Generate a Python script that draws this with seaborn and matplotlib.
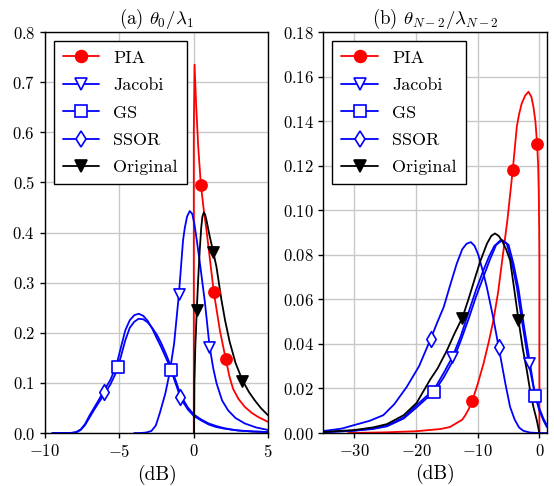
import matplotlib
matplotlib.use('Agg')
import matplotlib.pyplot as plt
from matplotlib.lines import Line2D
import seaborn as sns

# ---- panel (a): theta_0 / lambda_1 ----
a_pia_x = [0.0, 0.0, 0.05, 0.15, 0.3, 0.47, 0.65, 0.85, 1.05, 1.345, 1.75, 2.15, 2.4, 2.64, 3.0, 3.43, 3.9, 4.32, 5.0]
a_pia_y = [0.0, 0.60, 0.735, 0.66, 0.57, 0.497, 0.45, 0.405, 0.355, 0.281, 0.205, 0.147, 0.112, 0.088, 0.068, 0.052, 0.040, 0.032, 0.022]
a_pia_mx = [0.47, 1.345, 2.15]
a_pia_my = [0.495, 0.281, 0.147]

a_jac_x = [-4.0, -3.6, -3.2, -2.85, -2.55, -2.29, -1.91, -1.61, -1.32, -1.0, -0.72, -0.6, -0.45, -0.27, -0.1, 0.05, 0.2, 0.45, 0.75, 1.05, 1.3, 1.53, 1.9, 2.31, 2.8, 3.43, 4.2, 5.0]
a_jac_y = [0.0, 0.0, 0.001, 0.004, 0.015, 0.039, 0.079, 0.122, 0.179, 0.277, 0.385, 0.41, 0.432, 0.443, 0.437, 0.415, 0.385, 0.33, 0.26, 0.175, 0.13, 0.099, 0.065, 0.045, 0.03, 0.019, 0.011, 0.006]
a_jac_mx = [-0.99, 1.05]
a_jac_my = [0.277, 0.172]

a_wide_x = [-9.5, -8.3, -7.9, -7.6, -7.3, -7.0, -6.7, -6.4, -6.0, -5.6, -5.2, -4.9, -4.6, -4.3, -4.0, -3.7, -3.4, -3.1, -2.8, -2.5, -2.2, -1.9, -1.6, -1.3, -1.0, -0.7, -0.4, 0.0, 0.5, 1.0, 1.5, 2.0, 2.5, 3.0, 4.0, 5.0]
a_gs_y = [0.0, 0.0, 0.002, 0.007, 0.018, 0.035, 0.05, 0.065, 0.086, 0.106, 0.135, 0.17, 0.205, 0.225, 0.235, 0.238, 0.234, 0.224, 0.209, 0.19, 0.172, 0.152, 0.132, 0.106, 0.08, 0.061, 0.047, 0.034, 0.025, 0.017, 0.012, 0.009, 0.007, 0.005, 0.003, 0.002]
a_gs_mx = [-5.11, -1.5]
a_gs_my = [0.132, 0.125]
a_ssor_y = [0.0, 0.0, 0.001, 0.006, 0.016, 0.031, 0.046, 0.06, 0.078, 0.097, 0.122, 0.152, 0.185, 0.21, 0.222, 0.228, 0.227, 0.221, 0.21, 0.197, 0.18, 0.16, 0.138, 0.112, 0.086, 0.066, 0.051, 0.037, 0.027, 0.019, 0.014, 0.01, 0.007, 0.005, 0.003, 0.002]
a_ssor_mx = [-6.0, -0.94]
a_ssor_my = [0.082, 0.072]

a_orig_x = [0.02, 0.04, 0.1, 0.2, 0.3, 0.4, 0.5, 0.58, 0.67, 0.76, 0.85, 1.05, 1.3, 1.52, 1.86, 2.1, 2.4, 2.8, 3.27, 3.7, 4.1, 4.5, 5.0]
a_orig_y = [0.0, 0.10, 0.17, 0.245, 0.31, 0.365, 0.41, 0.432, 0.44, 0.436, 0.425, 0.395, 0.362, 0.332, 0.265, 0.225, 0.183, 0.14, 0.105, 0.082, 0.065, 0.05, 0.035]
a_orig_mx = [0.2, 1.3, 3.27]
a_orig_my = [0.245, 0.362, 0.103]

# ---- panel (b): theta_{N-2} / lambda_{N-2} ----
b_pia_x = [-31, -25, -20, -16, -14.5, -12.5, -12.0, -11.5, -10.9, -10.0, -9.07, -8.2, -7.45, -6.7, -6.1, -5.19, -4.31, -3.66, -3.3, -2.86, -2.3, -1.78, -1.3, -0.97, -0.65, -0.37, -0.2, -0.1, -0.03, 0.0, 0.0]
b_pia_y = [0.0, 0.0003, 0.0008, 0.0018, 0.0027, 0.006, 0.008, 0.0105, 0.0142, 0.022, 0.031, 0.041, 0.0506, 0.063, 0.076, 0.0955, 0.1183, 0.1375, 0.143, 0.148, 0.1515, 0.1532, 0.151, 0.1465, 0.140, 0.1297, 0.12, 0.1075, 0.09, 0.0776, 0.0]
b_pia_mx = [-10.9, -4.31, -0.37]
b_pia_my = [0.0142, 0.1183, 0.1297]

b_jac_x = [-35, -30.1, -27, -24.7, -22, -19.9, -18.5, -17.07, -15.5, -14.1, -12.8, -11.5, -10.3, -9.08, -8.2, -7.3, -6.26, -5.28, -4.5, -3.66, -2.7, -1.78, -1.2, -0.7, 0.0, 0.65, 1.2]
b_jac_y = [0.0004, 0.0011, 0.002, 0.0033, 0.007, 0.0125, 0.016, 0.0195, 0.027, 0.0341, 0.043, 0.054, 0.064, 0.073, 0.079, 0.084, 0.0866, 0.085, 0.077, 0.0656, 0.048, 0.0319, 0.024, 0.017, 0.01, 0.0057, 0.0027]
b_jac_mx = [-14.1, -1.62]
b_jac_my = [0.0341, 0.0315]

b_gs_x = [-35, -30.1, -27, -24.7, -22, -19.9, -18.5, -17.07, -15.5, -14.1, -12.8, -11.5, -10.3, -9.08, -8.0, -7.0, -6.0, -5.0, -4.2, -3.4, -2.5, -1.5, -1.0, -0.65, 0.0, 0.65, 1.2]
b_gs_y = [0.0004, 0.001, 0.0018, 0.003, 0.0065, 0.0115, 0.015, 0.0184, 0.025, 0.032, 0.041, 0.051, 0.061, 0.070, 0.078, 0.0845, 0.0866, 0.0845, 0.076, 0.065, 0.048, 0.031, 0.022, 0.0166, 0.011, 0.0065, 0.0035]
b_gs_mx = [-17.07, -0.65]
b_gs_my = [0.0184, 0.0166]

b_ssor_x = [-35, -32, -30.1, -27.5, -25.3, -23.5, -21.5, -19.5, -17.6, -16.5, -15.5, -14.5, -13.4, -12.5, -11.8, -11.1, -10.5, -9.9, -9.2, -8.53, -7.5, -6.6, -5.5, -4.75, -4.0, -3.3, -2.6, -1.5, 0.0, 1.2]
b_ssor_y = [0.0009, 0.002, 0.0035, 0.0055, 0.008, 0.013, 0.0207, 0.03, 0.0424, 0.05, 0.0566, 0.066, 0.076, 0.0825, 0.085, 0.0857, 0.084, 0.08, 0.073, 0.0656, 0.052, 0.0386, 0.022, 0.0117, 0.006, 0.0025, 0.001, 0.0002, 0.0, 0.0]
b_ssor_mx = [-17.5, -6.58]
b_ssor_my = [0.0424, 0.0386]

b_orig_x = [-35, -32, -30.1, -27, -24.7, -22, -19.9, -17.7, -16.5, -15.0, -13.7, -12.48, -11.5, -10.5, -9.6, -8.5, -7.8, -7.2, -6.6, -6.0, -5.4, -4.75, -4.1, -3.4, -2.7, -2.04, -1.5, -0.97, -0.42, 0.0]
b_orig_y = [0.0005, 0.001, 0.0013, 0.0025, 0.004, 0.008, 0.0135, 0.024, 0.029, 0.037, 0.045, 0.0518, 0.06, 0.069, 0.077, 0.085, 0.0885, 0.0896, 0.0885, 0.086, 0.0825, 0.0776, 0.065, 0.051, 0.038, 0.0282, 0.019, 0.0117, 0.0057, 0.0]
b_orig_mx = [-12.48, -3.4]
b_orig_my = [0.0518, 0.0509]

labels = ['PIA', 'Jacobi', 'GS', 'SSOR', 'Original']
colors = ['red', 'blue', 'blue', 'blue', 'black']
markers = ['o', 'v', 's', 'd', 'v']
filled = [True, False, False, False, True]

sns.set_style('ticks')
plt.rcParams['font.family'] = 'serif'
plt.rcParams['font.serif'] = ['cmr10']
plt.rcParams['mathtext.fontset'] = 'cm'
plt.rcParams['axes.formatter.use_mathtext'] = True
for k in ['text.color', 'axes.labelcolor', 'xtick.color', 'ytick.color', 'axes.edgecolor']:
    plt.rcParams[k] = 'black'

fig, axes = plt.subplots(1, 2, figsize=(5.54, 4.86), dpi=100)
fig.subplots_adjust(left=0.081, right=0.987, bottom=0.109, top=0.934, wspace=0.247)

panels = [
    [(a_pia_x, a_pia_y, a_pia_mx, a_pia_my), (a_jac_x, a_jac_y, a_jac_mx, a_jac_my),
     (a_wide_x, a_gs_y, a_gs_mx, a_gs_my), (a_wide_x, a_ssor_y, a_ssor_mx, a_ssor_my),
     (a_orig_x, a_orig_y, a_orig_mx, a_orig_my)],
    [(b_pia_x, b_pia_y, b_pia_mx, b_pia_my), (b_jac_x, b_jac_y, b_jac_mx, b_jac_my),
     (b_gs_x, b_gs_y, b_gs_mx, b_gs_my), (b_ssor_x, b_ssor_y, b_ssor_mx, b_ssor_my),
     (b_orig_x, b_orig_y, b_orig_mx, b_orig_my)],
]

for ax, data in zip(axes, panels):
    handles = []
    for (x, y, mx, my), lab, c, m, f in zip(data, labels, colors, markers, filled):
        fc = c if f else 'white'
        sns.lineplot(x=x, y=y, sort=False, estimator=None, color=c, linewidth=1.3, ax=ax)
        sns.scatterplot(x=mx, y=my, marker=m, s=64, color=fc, edgecolor=c, linewidth=1.2, ax=ax, zorder=3)
        handles.append(Line2D([0], [0], color=c, lw=1.3, marker=m, markersize=8.5,
                              markerfacecolor=fc, markeredgecolor=c, markeredgewidth=1.2, label=lab))
    ax.legend(handles=handles, loc='upper left', fancybox=False, edgecolor='black',
              framealpha=1, fontsize=13, labelspacing=0.65, borderpad=0.5)
    ax.grid(True, color='#c8c8c8', linewidth=1.0)
    ax.set_axisbelow(True)
    ax.set_xlabel('(dB)', fontsize=14)
    ax.set_ylabel('')
    ax.tick_params(labelsize=12, length=3.5, width=1)
    for s in ax.spines.values():
        s.set_linewidth(1.0)

axes[0].set_xlim(-10, 5)
axes[0].set_ylim(0, 0.8)
axes[0].set_xticks([-10, -5, 0, 5])
axes[0].set_title(r'(a) $\theta_0/\lambda_1$', fontsize=13.5)

axes[1].set_xlim(-35, 1.2)
axes[1].set_ylim(0, 0.18)
axes[1].set_xticks([-30, -20, -10, 0])
axes[1].set_yticks([0.0, 0.02, 0.04, 0.06, 0.08, 0.10, 0.12, 0.14, 0.16, 0.18])
axes[1].set_title(r'(b) $\theta_{N-2}/\lambda_{N-2}$', fontsize=13.5)

fig.savefig('out.png', dpi=100)
